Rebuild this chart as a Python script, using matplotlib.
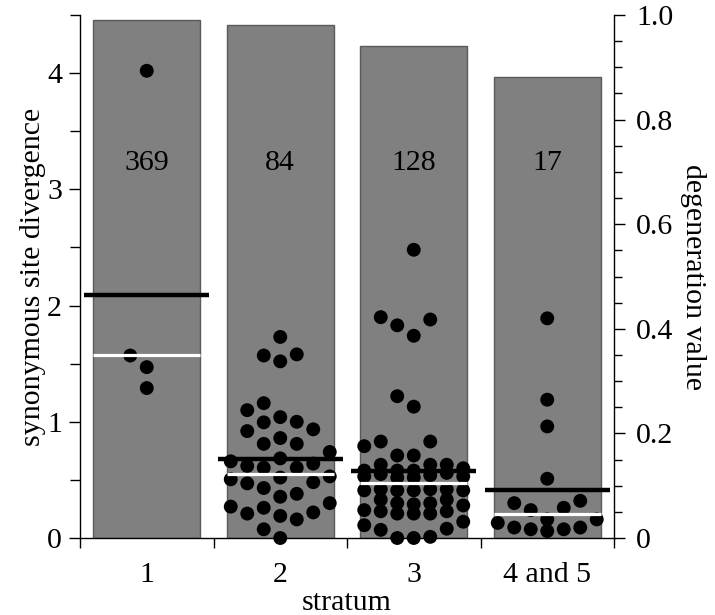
import matplotlib
matplotlib.use("Agg")
import matplotlib.pyplot as plt
from matplotlib.ticker import MultipleLocator, FixedLocator, NullFormatter

plt.rcParams['font.family'] = ['Liberation Serif', 'DejaVu Serif']

# ---------------- data ----------------
strata = ["1", "2", "3", "4 and 5"]
gene_counts = ["369", "84", "128", "17"]
degeneration = [0.99, 0.981, 0.941, 0.881]          # bar heights (right axis)
mean_div = [2.09, 0.68, 0.58, 0.41]                 # black lines (left axis)
median_div = [1.575, 0.55, 0.47, 0.21]              # white lines (left axis)

div_s1 = [4.02, 1.57, 1.47, 1.29]
div_s2 = [1.73, 1.58, 1.57, 1.52, 1.16, 1.10, 1.04, 1.00, 0.995, 0.935,
          0.92, 0.86, 0.81, 0.81, 0.74, 0.685, 0.66, 0.64, 0.62, 0.605,
          0.605, 0.53, 0.52, 0.505, 0.48, 0.47, 0.43, 0.38, 0.355, 0.30,
          0.27, 0.26, 0.22, 0.21, 0.19, 0.16, 0.075, 0.0]
div_s3 = [2.48, 1.90, 1.88, 1.83, 1.74, 1.22, 1.13, 0.83, 0.83, 0.79,
          0.71, 0.71,
          0.63, 0.56, 0.41, 0.24, 0.11,
          0.63, 0.55, 0.42, 0.33, 0.21, 0.07,
          0.58, 0.53, 0.41, 0.30, 0.21, 0.0,
          0.58, 0.52, 0.42, 0.30, 0.21, 0.0,
          0.60, 0.53, 0.41, 0.29, 0.23, 0.01,
          0.63, 0.54, 0.42, 0.33, 0.23, 0.08,
          0.58, 0.52, 0.41, 0.28, 0.14]
div_s4 = [1.89, 1.19, 0.96, 0.51, 0.32, 0.30, 0.26, 0.24, 0.16, 0.16,
          0.13, 0.09, 0.09, 0.075, 0.075, 0.06]
divergence = [div_s1, div_s2, div_s3, div_s4]

left_ticks = [0, 1, 2, 3, 4]
right_ticks = [0, 0.2, 0.4, 0.6, 0.8, 1.0]
right_ticklabels = ["0", "0.2", "0.4", "0.6", "0.8", "1.0"]

# ---------------- figure ----------------
W, H, DPI = 715, 615, 100
fig = plt.figure(figsize=(W / DPI, H / DPI), dpi=DPI)
ax_l, ax_b, ax_w, ax_h = 80 / W, 77 / H, 534 / W, 523 / H
ax = fig.add_axes([ax_l, ax_b, ax_w, ax_h])
ax2 = ax.twinx()

YMAX = 4.5
ax.set_xlim(0, len(strata))
ax.set_ylim(0, YMAX)
ax2.set_ylim(0, 1.0)

fs = 21.5

# bars on right axis
centers = [i + 0.5 for i in range(len(strata))]
ax2.bar(centers, degeneration, width=0.8, color="#808080",
        edgecolor="#5a5a5a", linewidth=1.0, zorder=1)

# dots on left axis, above bars
ax.set_zorder(ax2.get_zorder() + 1)
ax.patch.set_visible(False)

px_per_unit = ax_h * H / YMAX
px_per_x = ax_w * W / len(strata)
slot_px = 16.5
slot_order = [0, -1, 1, -2, 2, -3, 3]
tol = 19.0


def swarm_offsets(vals):
    order = sorted(range(len(vals)), key=lambda i: vals[i])
    placed = {k: [] for k in slot_order}
    slots = [0] * len(vals)
    for i in order:
        y = vals[i] * px_per_unit
        chosen = None
        for k in slot_order:
            if all(abs(y - yy) >= tol for yy in placed[k]):
                chosen = k
                break
        if chosen is None:
            best = -1
            for k in slot_order:
                d = min(abs(y - yy) for yy in placed[k])
                if d > best + 0.5:
                    best, chosen = d, k
        placed[chosen].append(y)
        slots[i] = chosen
    return [s * slot_px / px_per_x for s in slots]


for c, vals in zip(centers, divergence):
    offs = swarm_offsets(vals)
    ax.scatter([c + o for o in offs], vals, s=100, color="black",
               edgecolors="none", zorder=3, clip_on=False)

# mean (black) and median (white) lines
for c, m, md in zip(centers, mean_div, median_div):
    ax.plot([c - 0.47, c + 0.47], [m, m], color="black", lw=3.2,
            solid_capstyle="butt", zorder=4)
    ax.plot([c - 0.4, c + 0.4], [md, md], color="white", lw=2.3,
            solid_capstyle="butt", zorder=5)

# gene count labels
for c, t in zip(centers, gene_counts):
    ax.text(c, 3.23, t, ha="center", va="center", fontsize=fs, zorder=6)

# spines
for a in (ax, ax2):
    a.spines["top"].set_visible(False)
ax.spines["right"].set_visible(False)
ax2.spines["left"].set_visible(False)
ax2.spines["bottom"].set_visible(False)
for a in (ax, ax2):
    for s in a.spines.values():
        s.set_linewidth(1.0)

# ticks
ax.yaxis.set_major_locator(FixedLocator(left_ticks))
ax.yaxis.set_minor_locator(MultipleLocator(0.5))
ax.tick_params(axis="y", which="major", direction="out", length=8,
               width=1, labelsize=fs, pad=5)
ax.tick_params(axis="y", which="minor", direction="out", length=7, width=1)

ax.xaxis.set_major_locator(FixedLocator(list(range(len(strata) + 1))))
ax.xaxis.set_major_formatter(NullFormatter())
ax.xaxis.set_minor_locator(FixedLocator(centers))
ax.set_xticklabels(strata, minor=True)
ax.tick_params(axis="x", which="major", direction="out", length=7, width=1)
ax.tick_params(axis="x", which="minor", length=0, labelsize=fs, pad=17)

ax2.yaxis.set_major_locator(FixedLocator(right_ticks))
ax2.set_yticklabels(right_ticklabels)
ax2.yaxis.set_minor_locator(MultipleLocator(0.05))
ax2.tick_params(axis="y", which="major", direction="out", length=8,
                width=1, labelsize=fs, pad=8)
ax2.tick_params(axis="y", which="minor", direction="out", length=6, width=1)

ax.set_ylabel("synonymous site divergence", fontsize=fs, labelpad=1)
ax.set_xlabel("stratum", fontsize=fs, labelpad=2)
ax2.set_ylabel("degeneration value", fontsize=fs, rotation=270,
               labelpad=23)

fig.savefig("out.png", dpi=DPI)
